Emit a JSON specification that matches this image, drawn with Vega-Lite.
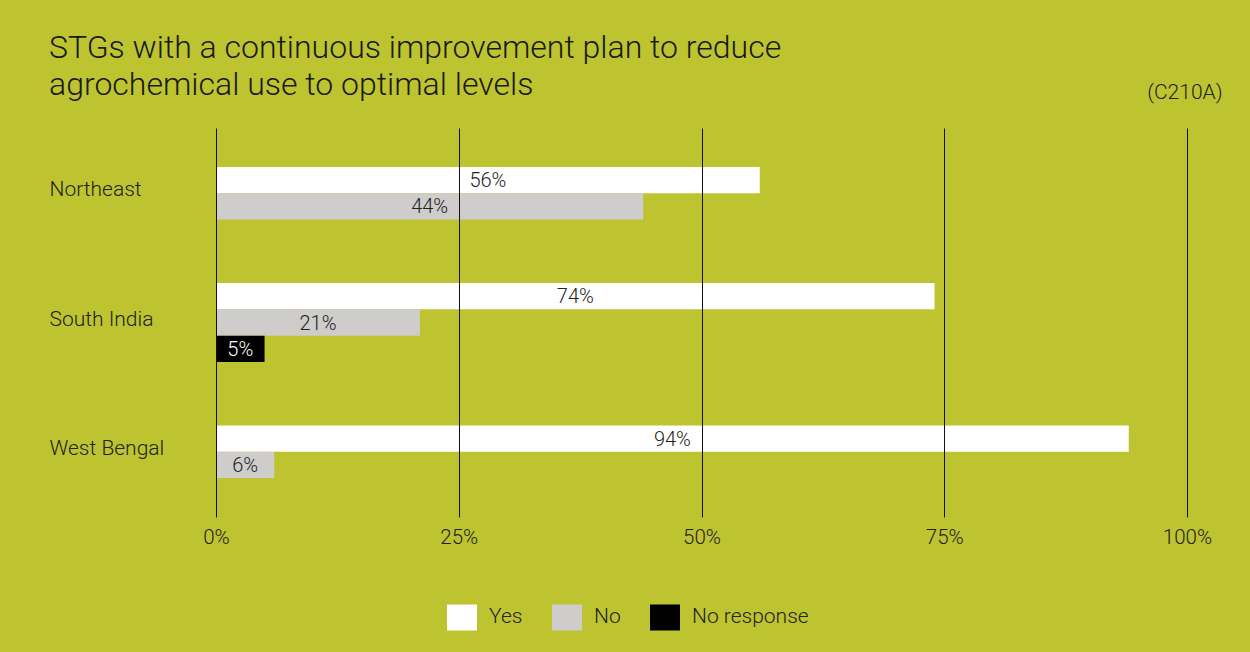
{
  "$schema": "https://vega.github.io/schema/vega-lite/v6.json",
  "width": 971,
  "height": 389,
  "autosize": {"type": "none"},
  "padding": {"left": 216, "top": 128, "right": 63, "bottom": 135},
  "background": "#BDC430",
  "config": {
    "view": {"stroke": null},
    "font": "Roboto",
    "legend": {
      "symbolType": "M-1,-0.867H1V0.867H-1Z",
      "symbolSize": 900,
      "symbolStrokeWidth": 0,
      "labelFontSize": 21,
      "labelFontWeight": 300,
      "labelColor": "#222222",
      "labelFont": "Roboto",
      "labelOffset": 12,
      "columnPadding": 29
    }
  },
  "title": {
    "text": ["STGs with a continuous improvement plan to reduce", "agrochemical use to optimal levels"],
    "anchor": "start",
    "frame": "group",
    "dx": -167,
    "dy": 49,
    "fontSize": 32,
    "font": "Roboto",
    "fontWeight": 300,
    "color": "#1a1a1a",
    "lineHeight": 37,
    "offset": 28
  },
  "data": {
    "values": [
      {"region": "Northeast", "answer": "Yes", "value": 56},
      {"region": "Northeast", "answer": "No", "value": 44},
      {"region": "South India", "answer": "Yes", "value": 74},
      {"region": "South India", "answer": "No", "value": 21},
      {"region": "South India", "answer": "No response", "value": 5},
      {"region": "West Bengal", "answer": "Yes", "value": 94},
      {"region": "West Bengal", "answer": "No", "value": 6}
    ]
  },
  "encoding": {
    "y": {
      "field": "region",
      "type": "nominal",
      "sort": ["Northeast", "South India", "West Bengal"],
      "scale": {"paddingInner": 0.39, "paddingOuter": 0.2},
      "axis": {
        "title": "(C210A)",
        "titleAngle": 0,
        "titleAlign": "right",
        "titleBaseline": "middle",
        "titleX": 1006,
        "titleY": -36,
        "titleFontSize": 21,
        "titleFontWeight": 300,
        "titleFont": "Roboto",
        "titleColor": "#222222",
        "labelAlign": "left",
        "labelPadding": 167,
        "labelOffset": -3,
        "ticks": false,
        "tickSize": 0,
        "domain": false,
        "grid": false,
        "labelFontSize": 21,
        "labelFontWeight": 300,
        "labelFont": "Roboto",
        "labelColor": "#222222"
      }
    }
  },
  "layer": [
    {
      "transform": [{"filter": "datum.region !== 'South India'"}],
      "encoding": {
        "yOffset": {
          "field": "answer",
          "type": "nominal",
          "scale": {"domain": ["Yes", "No"], "paddingInner": 0, "paddingOuter": 0.5}
        }
      },
      "layer": [
        {
          "mark": {"type": "bar"},
          "encoding": {
            "x": {
              "field": "value",
              "type": "quantitative",
              "stack": null,
              "scale": {"domain": [0, 100]},
              "axis": {"title": null, "values": [0, 25, 50, 75, 100], "labelExpr": "datum.value + '%'", "grid": true, "gridColor": "#111111", "gridWidth": 1, "gridOpacity": 1, "ticks": false, "tickSize": 0, "domain": false, "labelPadding": 10, "labelFontSize": 20.5, "labelFontWeight": 300, "labelFont": "Roboto", "labelColor": "#222222", "labelFlush": false, "zindex": 1}
            },
            "color": {
              "field": "answer",
              "type": "nominal",
              "scale": {"domain": ["Yes", "No", "No response"], "range": ["#FFFFFF", "#CECDCB", "#000000"]},
              "legend": {"title": null, "orient": "none", "direction": "horizontal", "legendX": 231, "legendY": 474}
            }
          }
        },
        {
          "mark": {"type": "text", "fontSize": 20, "fontWeight": 300, "font": "Roboto", "baseline": "middle", "align": "center", "dy": 1},
          "encoding": {
            "x": {
              "field": "value",
              "type": "quantitative",
              "stack": "zero",
              "bandPosition": 0.5,
              "scale": {"domain": [0, 100]},
              "axis": {"title": null, "values": [0, 25, 50, 75, 100], "labelExpr": "datum.value + '%'", "grid": true, "gridColor": "#111111", "gridWidth": 1, "gridOpacity": 1, "ticks": false, "tickSize": 0, "domain": false, "labelPadding": 10, "labelFontSize": 20.5, "labelFontWeight": 300, "labelFont": "Roboto", "labelColor": "#222222", "labelFlush": false, "zindex": 1}
            },
            "text": {"value": {"expr": "datum.value + '%'"}},
            "color": {"condition": {"test": "datum.answer === 'No response'", "value": "#FFFFFF"}, "value": "#222222"}
          }
        }
      ]
    },
    {
      "transform": [{"filter": "datum.region === 'South India'"}],
      "encoding": {
        "yOffset": {
          "field": "answer",
          "type": "nominal",
          "scale": {"domain": ["Yes", "No", "No response"], "paddingInner": 0, "paddingOuter": 0}
        }
      },
      "layer": [
        {
          "mark": {"type": "bar"},
          "encoding": {
            "x": {
              "field": "value",
              "type": "quantitative",
              "stack": null,
              "scale": {"domain": [0, 100]},
              "axis": {"title": null, "values": [0, 25, 50, 75, 100], "labelExpr": "datum.value + '%'", "grid": true, "gridColor": "#111111", "gridWidth": 1, "gridOpacity": 1, "ticks": false, "tickSize": 0, "domain": false, "labelPadding": 10, "labelFontSize": 20.5, "labelFontWeight": 300, "labelFont": "Roboto", "labelColor": "#222222", "labelFlush": false, "zindex": 1}
            },
            "color": {
              "field": "answer",
              "type": "nominal",
              "scale": {"domain": ["Yes", "No", "No response"], "range": ["#FFFFFF", "#CECDCB", "#000000"]},
              "legend": {"title": null, "orient": "none", "direction": "horizontal", "legendX": 231, "legendY": 474}
            }
          }
        },
        {
          "mark": {"type": "text", "fontSize": 20, "fontWeight": 300, "font": "Roboto", "baseline": "middle", "align": "center", "dy": 1},
          "encoding": {
            "x": {
              "field": "value",
              "type": "quantitative",
              "stack": "zero",
              "bandPosition": 0.5,
              "scale": {"domain": [0, 100]},
              "axis": {"title": null, "values": [0, 25, 50, 75, 100], "labelExpr": "datum.value + '%'", "grid": true, "gridColor": "#111111", "gridWidth": 1, "gridOpacity": 1, "ticks": false, "tickSize": 0, "domain": false, "labelPadding": 10, "labelFontSize": 20.5, "labelFontWeight": 300, "labelFont": "Roboto", "labelColor": "#222222", "labelFlush": false, "zindex": 1}
            },
            "text": {"value": {"expr": "datum.value + '%'"}},
            "color": {"condition": {"test": "datum.answer === 'No response'", "value": "#FFFFFF"}, "value": "#222222"}
          }
        }
      ]
    }
  ],
  "resolve": {"scale": {"yOffset": "independent"}}
}
